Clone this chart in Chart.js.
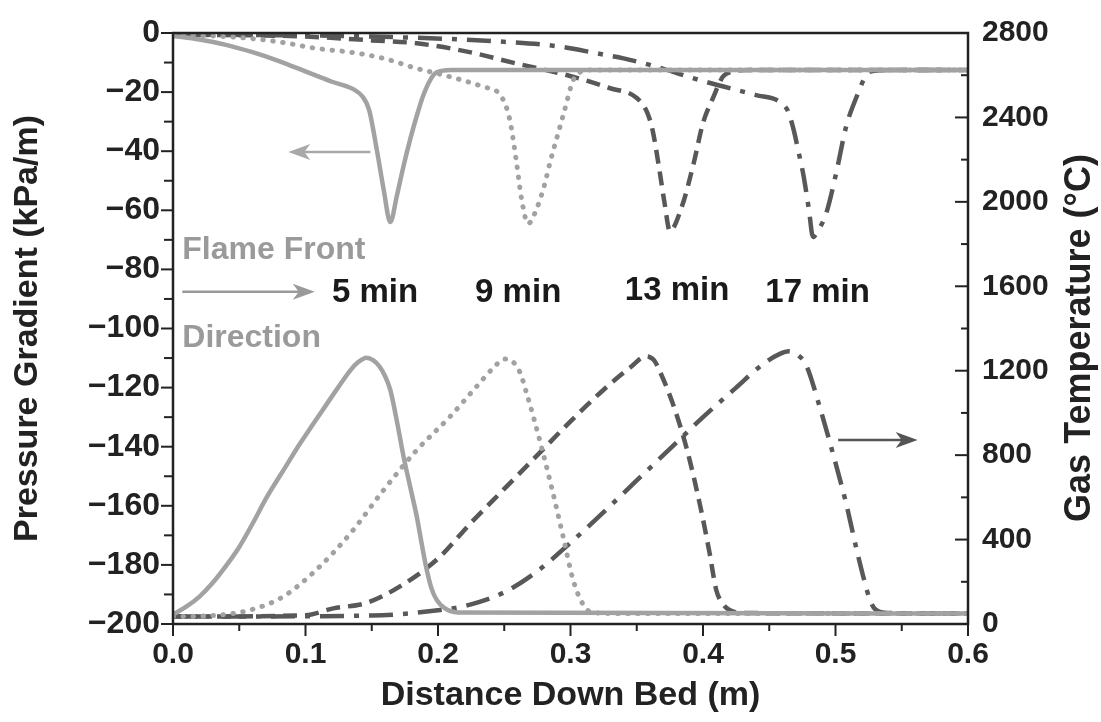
<!DOCTYPE html>
<html>
<head>
<meta charset="utf-8">
<script src="https://cdn.jsdelivr.net/npm/chart.js@4.4.0/dist/chart.umd.min.js"></script>
<style>
  html, body { margin: 0; padding: 0; background: #fff; }
  #wrap { width: 1101px; height: 722px; }
</style>
</head>
<body>
<div id="wrap"><canvas id="bedChart"></canvas></div>
<script>
// pressure gradient (kPa/m) vs distance (m)
const pres5 = [[0,-1],[0.02,-2.2],[0.04,-4],[0.06,-6.5],[0.08,-9.5],[0.10,-13],[0.12,-16.5],[0.136,-19],[0.143,-21.5],[0.148,-26],[0.154,-40],[0.159,-53],[0.164,-64],[0.169,-55],[0.174,-45],[0.179,-36],[0.184,-28],[0.189,-21],[0.194,-16],[0.199,-13.3],[0.21,-12.5],[0.6,-12.5]];
const pres9 = [[0,-0.5],[0.05,-1.5],[0.08,-3],[0.108,-5.2],[0.134,-6.5],[0.159,-8.6],[0.184,-12],[0.209,-14.8],[0.234,-18.2],[0.247,-21],[0.254,-29],[0.259,-43],[0.263,-56],[0.268,-64.5],[0.274,-60],[0.28,-52],[0.285,-43],[0.29,-35],[0.295,-27],[0.302,-16],[0.307,-13.3],[0.315,-12.5],[0.6,-12.5]];
const pres13 = [[0,-0.5],[0.1,-1.2],[0.15,-2.5],[0.184,-3.5],[0.222,-6.3],[0.259,-10.3],[0.297,-14.2],[0.33,-18.7],[0.35,-22],[0.358,-27],[0.362,-33],[0.367,-46],[0.371,-57.6],[0.375,-67],[0.384,-58.8],[0.393,-44],[0.40,-30.5],[0.408,-21.5],[0.415,-14.8],[0.423,-13],[0.435,-12.5],[0.6,-12.5]];
const pres17 = [[0,-0.5],[0.15,-1.2],[0.247,-2.9],[0.292,-4.6],[0.32,-6.9],[0.34,-8.6],[0.36,-10.8],[0.398,-16],[0.44,-21],[0.463,-25.5],[0.468,-32],[0.472,-40],[0.476,-48.6],[0.48,-60],[0.483,-69],[0.488,-66],[0.493,-61],[0.501,-46.4],[0.508,-31.7],[0.516,-21.5],[0.522,-15.3],[0.527,-13],[0.54,-12.5],[0.6,-12.5]];

// gas temperature (°C) vs distance (m)
const temp5 = [[0,45],[0.01,82],[0.02,130],[0.03,195],[0.04,275],[0.05,365],[0.06,475],[0.071,603],[0.084,735],[0.096,856],[0.105,940],[0.113,1014],[0.124,1115],[0.134,1203],[0.14,1242],[0.146,1262],[0.151,1250],[0.156,1219],[0.16,1175],[0.164,1109],[0.169,960],[0.174,793],[0.179,650],[0.184,508],[0.188,370],[0.191,271],[0.195,170],[0.199,114],[0.205,75],[0.215,55],[0.6,50]];
const temp9 = [[0,35],[0.03,40],[0.058,66],[0.083,129],[0.108,256],[0.134,430],[0.159,635],[0.184,824],[0.209,982],[0.229,1124],[0.242,1215],[0.25,1255],[0.256,1245],[0.262,1190],[0.267,1090],[0.272,982],[0.285,667],[0.295,398],[0.302,208],[0.309,98],[0.315,58],[0.33,50],[0.6,50]];
const temp13 = [[0,35],[0.1,42],[0.121,74],[0.146,100],[0.171,177],[0.2,310],[0.225,480],[0.25,640],[0.275,800],[0.3,960],[0.325,1110],[0.345,1215],[0.357,1268],[0.363,1250],[0.367,1203],[0.378,1030],[0.388,824],[0.398,556],[0.405,335],[0.41,161],[0.415,95],[0.42,66],[0.43,52],[0.6,50]];
const temp17 = [[0,35],[0.15,40],[0.2,65],[0.22,85],[0.25,150],[0.275,250],[0.3,385],[0.325,530],[0.35,680],[0.375,830],[0.4,980],[0.425,1120],[0.445,1230],[0.458,1280],[0.465,1292],[0.472,1272],[0.478,1225],[0.488,1030],[0.498,809],[0.508,572],[0.516,351],[0.522,200],[0.526,114],[0.53,70],[0.54,52],[0.6,50]];

const timeLabels = ['5 min', '9 min', '13 min', '17 min'];
const labelSpots = [[0.12, -88], [0.228, -88], [0.341, -87.3], [0.447, -88]]; // in x / kPa units

const LIGHT = '#a2a2a2';
const DARK = '#585858';
const INK = '#222';
const FONT = '"Liberation Sans", Arial, sans-serif';

const toXY = arr => arr.map(p => ({ x: p[0], y: p[1] }));

function line(data, axis, color, dash, width) {
  return {
    data: toXY(data),
    yAxisID: axis,
    borderColor: color,
    borderWidth: width || 4.5,
    borderDash: dash,
    borderCapStyle: dash.length && dash[0] < 1 ? 'round' : 'butt',
    pointRadius: 0,
    fill: false,
    cubicInterpolationMode: 'monotone'
  };
}

function arrow(ctx, x1, y, x2, color) {
  const dir = Math.sign(x2 - x1);
  ctx.strokeStyle = color;
  ctx.fillStyle = color;
  ctx.lineWidth = 2.5;
  ctx.beginPath();
  ctx.moveTo(x1, y);
  ctx.lineTo(x2 - dir * 10, y);
  ctx.stroke();
  ctx.beginPath();
  ctx.moveTo(x2, y);
  ctx.lineTo(x2 - dir * 22, y - 8);
  ctx.lineTo(x2 - dir * 16, y);
  ctx.lineTo(x2 - dir * 22, y + 8);
  ctx.closePath();
  ctx.fill();
}

const framePlugin = {
  id: 'frame',
  afterDraw(chart) {
    const { ctx, chartArea: a, scales } = chart;
    const sx = scales.x, sy = scales.y, sy2 = scales.y2;
    ctx.save();
    ctx.strokeStyle = INK;
    ctx.lineWidth = 2.5;
    ctx.strokeRect(a.left, a.top, a.right - a.left, a.bottom - a.top);

    const tick = (x1, y1, x2, y2) => { ctx.beginPath(); ctx.moveTo(x1, y1); ctx.lineTo(x2, y2); ctx.stroke(); };
    ctx.lineWidth = 2;
    for (let v = -200; v <= 0; v += 10) {
      const y = sy.getPixelForValue(v);
      tick(a.left - (v % 20 === 0 ? 12 : 9), y, a.left, y);
    }
    for (let v = 0; v <= 2800; v += 200) {
      const y = sy2.getPixelForValue(v);
      tick(a.right - (v % 400 === 0 ? 13 : 7), y, a.right, y);
    }
    for (let i = 0; i <= 12; i++) {
      const x = sx.getPixelForValue(i * 0.05);
      tick(x, a.bottom, x, a.bottom + (i % 2 === 0 ? 12 : 7));
    }

    // right title reads bottom-to-top
    ctx.save();
    ctx.translate(1080, 338);
    ctx.rotate(-Math.PI / 2);
    ctx.fillStyle = INK;
    ctx.font = 'bold 36px ' + FONT;
    ctx.textAlign = 'center';
    ctx.textBaseline = 'middle';
    ctx.fillText('Gas Temperature (\u00B0C)', 0, 0);
    ctx.restore();

    // annotations
    ctx.textAlign = 'left';
    ctx.textBaseline = 'middle';
    ctx.font = 'bold 32px ' + FONT;
    ctx.fillStyle = '#9a9a9a';
    ctx.fillText('Flame Front', sx.getPixelForValue(0.007), sy.getPixelForValue(-73.4));
    ctx.fillText('Direction', sx.getPixelForValue(0.007), sy.getPixelForValue(-103.2));
    arrow(ctx, sx.getPixelForValue(0.007), sy.getPixelForValue(-87.6), sx.getPixelForValue(0.107), '#9a9a9a');
    arrow(ctx, sx.getPixelForValue(0.149), sy.getPixelForValue(-40.3), sx.getPixelForValue(0.087), '#a8a8a8');
    arrow(ctx, sx.getPixelForValue(0.502), sy2.getPixelForValue(872), sx.getPixelForValue(0.562), '#555');

    ctx.font = 'bold 33px ' + FONT;
    ctx.fillStyle = '#1a1a1a';
    timeLabels.forEach((t, i) => {
      ctx.fillText(t, sx.getPixelForValue(labelSpots[i][0]), sy.getPixelForValue(labelSpots[i][1]));
    });
    ctx.restore();
  }
};

const tickFont = { family: FONT, size: 30, weight: 'bold' };
const yTickFont = { family: FONT, size: 32, weight: 'bold' };
const titleFont = { family: FONT, size: 34, weight: 'bold' };

new Chart(document.getElementById('bedChart').getContext('2d'), {
  type: 'line',
  data: {
    datasets: [
      line(pres5, 'y', LIGHT, []),
      line(pres9, 'y', LIGHT, [0.5, 9.5], 5),
      line(pres13, 'y', DARK, [14, 8]),
      line(pres17, 'y', DARK, [24, 10, 5, 10]),
      line(temp5, 'y2', LIGHT, []),
      line(temp9, 'y2', LIGHT, [0.5, 9.5], 5),
      line(temp13, 'y2', DARK, [14, 8]),
      line(temp17, 'y2', DARK, [24, 10, 5, 10])
    ]
  },
  options: {
    responsive: true,
    maintainAspectRatio: false,
    animation: false,
    layout: { padding: { top: 33, left: 0, right: 0, bottom: 0 } },
    plugins: { legend: { display: false }, tooltip: { enabled: false } },
    scales: {
      x: {
        type: 'linear', position: 'bottom', min: 0, max: 0.6,
        ticks: { stepSize: 0.1, callback: v => v.toFixed(1), font: tickFont, color: INK, padding: 13 },
        grid: { drawOnChartArea: false, drawTicks: false },
        border: { display: false },
        title: { display: true, text: 'Distance Down Bed (m)', font: titleFont, color: INK, padding: { top: 0, bottom: 6 } },
        afterFit: s => { s.height = 98; }
      },
      y: {
        type: 'linear', position: 'left', min: -200, max: 0,
        ticks: { stepSize: 20, callback: v => (v < 0 ? '\u2212' + (-v) : String(v)), font: yTickFont, color: INK, padding: 13 },
        grid: { drawOnChartArea: false, drawTicks: false },
        border: { display: false },
        title: { display: true, text: 'Pressure Gradient (kPa/m)', font: titleFont, color: INK, padding: { top: 7, bottom: 0 } },
        afterFit: s => { s.width = 173; }
      },
      y2: {
        type: 'linear', position: 'right', min: 0, max: 2800,
        ticks: { stepSize: 400, callback: v => String(v), font: tickFont, color: INK, padding: 14 },
        grid: { drawOnChartArea: false, drawTicks: false },
        border: { display: false },
        afterFit: s => { s.width = 133; }
      }
    }
  },
  plugins: [framePlugin]
});
</script>
</body>
</html>
